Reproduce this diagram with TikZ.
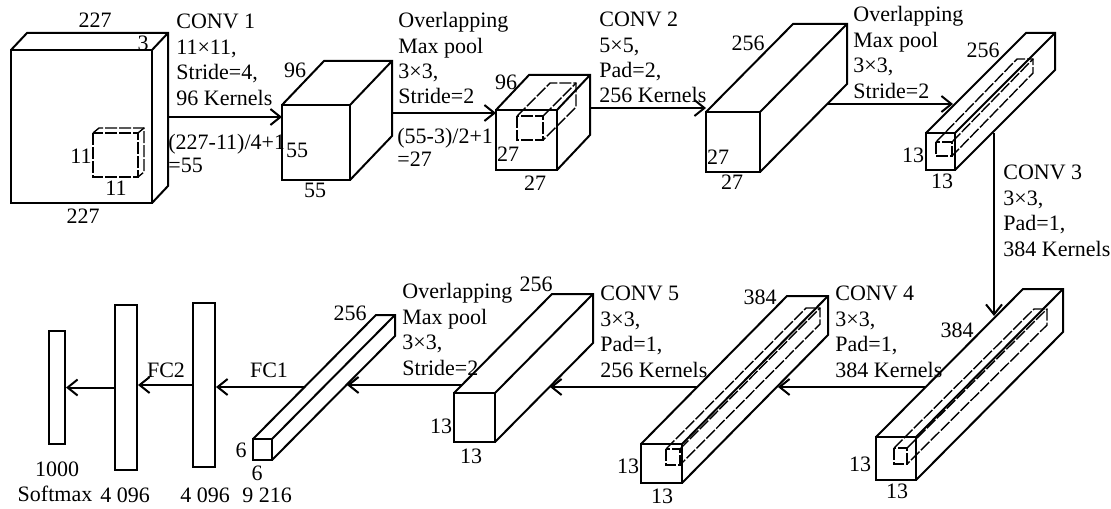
\documentclass[tikz,border=0pt]{standalone}
\usepackage{fontspec}
\setmainfont{Liberation Serif}
\usetikzlibrary{arrows.meta}
\begin{document}
\begin{tikzpicture}[x=0.5pt,y=-0.5pt]
    \tikzset{
        box/.style={line width=1pt, line join=miter},
        kernel/.style={line width=0.7pt, dash pattern=on 6pt off 1pt},
        arr/.style={line width=1pt, -{Straight Barb[length=5pt,width=8pt]}},
        lbl/.style={inner sep=0pt, font=\fontsize{11}{12.7}\selectfont},
        note/.style={lbl, anchor=base west, align=left},
        calc/.style={note, font=\fontsize{11}{11.5}\selectfont},
        fc/.style={draw, line width=1pt, inner sep=0pt}
    }
    \useasboundingbox (0,0) rectangle (1111,508);

    % feature maps: front face x1/y1/x2/y2, depth dx/dy
    \foreach \xa/\ya/\xb/\yb/\dx/\dy in {%
        11/50/152/203/16/-17, 282/105/350/180/42/-44, 496/110/557/170/33/-35,
        706/112/760/172/87/-88, 926/133/955/170/100/-100, 876/437/916/480/147/-148,
        641/444/682/483/146/-148, 454/393/495/442/98/-99, 253/439/272/460/123/-124%
    }{
        \draw[box] (\xa,\ya) rectangle (\xb,\yb);
        \draw[box] (\xa,\ya) -- ++(\dx,\dy) -| ([shift={(\dx,\dy)}]\xb,\yb) -- (\xb,\yb);
        \draw[box] (\xb,\ya) -- ++(\dx,\dy);
    }
    % kernels
    \foreach \xa/\ya/\xb/\yb/\dx/\dy in {%
        93/133/138/177/6/-5, 517/116/543/140/33/-33, 936/142/952/156/81/-83,
        894/448/907/464/140/-139, 666/449/680/465/140/-141%
    }{
        \draw[kernel] (\xa,\ya) rectangle (\xb,\yb);
        \draw[kernel] (\xa,\ya) -- ++(\dx,\dy) -| ([shift={(\dx,\dy)}]\xb,\yb) -- (\xb,\yb);
        \draw[kernel] (\xb,\ya) -- ++(\dx,\dy);
    }

    % fully connected layers
    \draw node[fc, minimum width=11pt, minimum height=82pt] (fc1) at (204,385) {};
    \draw node[fc, minimum width=11pt, minimum height=82.5pt] (fc2) at (126,387.5) {};
    \draw node[fc, minimum width=8pt, minimum height=56.5pt] (fc3) at (57,387.5) {};

    % arrows
    \coordinate (o1) at (168,117); \coordinate (i2) at (282,117);
    \coordinate (o2) at (392,113); \coordinate (i3) at (496,113);
    \coordinate (o3) at (589,108); \coordinate (i4) at (706,108);
    \coordinate (o4) at (828,104); \coordinate (i5) at (953,104);
    \coordinate (o5) at (994,133); \coordinate (i6) at (994,316);
    \coordinate (o6) at (926,387); \coordinate (i7) at (778,387);
    \coordinate (o7) at (697,387); \coordinate (i8) at (550,387);
    \coordinate (o8) at (462,385); \coordinate (i9) at (347,385);
    \coordinate (o9) at (304,387);
    \foreach \a/\b in {%
        o1/i2, o2/i3, o3/i4, o4/i5, o5/i6, o6/i7, o7/i8, o8/i9%
    }{
        \draw[arr] (\a) -- (\b);
    }
    \draw[arr] (o9) -- (fc1.east |- o9);
    \draw[arr] (fc1.west) -- (fc2.east |- fc1.west);
    \draw[arr] (fc2.west) -- (fc3.east |- fc2.west);

    % layer notes (anchored at the last line)
    \draw node[note] (conv1) at (176,105) {CONV 1\\11×11,\\Stride=4,\\96 Kernels};
    \draw node[calc] (size1) at (168,172) {(227-11)/4+1\\=55};
    \draw node[note] (pool1) at (398,104) {Overlapping\\Max pool\\3×3,\\Stride=2};
    \draw node[calc] (size2) at (397,166) {(55-3)/2+1\\=27};
    \draw node[note] (conv2) at (599,103) {CONV 2\\5×5,\\Pad=2,\\256 Kernels};
    \draw node[note] (pool2) at (853,98) {Overlapping\\Max pool\\3×3,\\Stride=2};
    \draw node[note] (conv3) at (1003,256) {CONV 3\\3×3,\\Pad=1,\\384 Kernels};
    \draw node[note] (conv4) at (835,377) {CONV 4\\3×3,\\Pad=1,\\384 Kernels};
    \draw node[note] (conv5) at (600,377) {CONV 5\\3×3,\\Pad=1,\\256 Kernels};
    \draw node[note] (pool3) at (402,375) {Overlapping\\Max pool\\3×3,\\Stride=2};

    % sizes
    \foreach \n/\x/\y/\t in {%
        d1/95/20/227, d2/143/43/3, d3/81/156/11, d4/116/188/11, d5/83/216/227,
        e1/295/70/96, e2/297/150/55, e3/315/190/55,
        f1/506/82/96, f2/508/154/27, f3/535/183/27,
        g1/748/43/256, g2/718/157/27, g3/732/182/27,
        h1/983/50/256, h2/913/155/13, h3/942/181/13,
        j1/957/330/384, j2/860/464/13, j3/897/491/13,
        k1/760/297/384, k2/628/466/13, k3/662/496/13,
        m1/536/284/256, m2/441/426/13, m3/471/456/13,
        n1/350/313/256, n2/241/450/6, n3/257/473/6, n4/267/495/9 216,
        q1/269/370/FC1, q2/166/370/FC2, q3/205/495/4 096, q4/125/495/4 096,
        q5/57/469/1000, q6/55/494/Softmax%
    }{
        \draw node[lbl] (\n) at (\x,\y) {\t};
    }
\end{tikzpicture}
\end{document}
